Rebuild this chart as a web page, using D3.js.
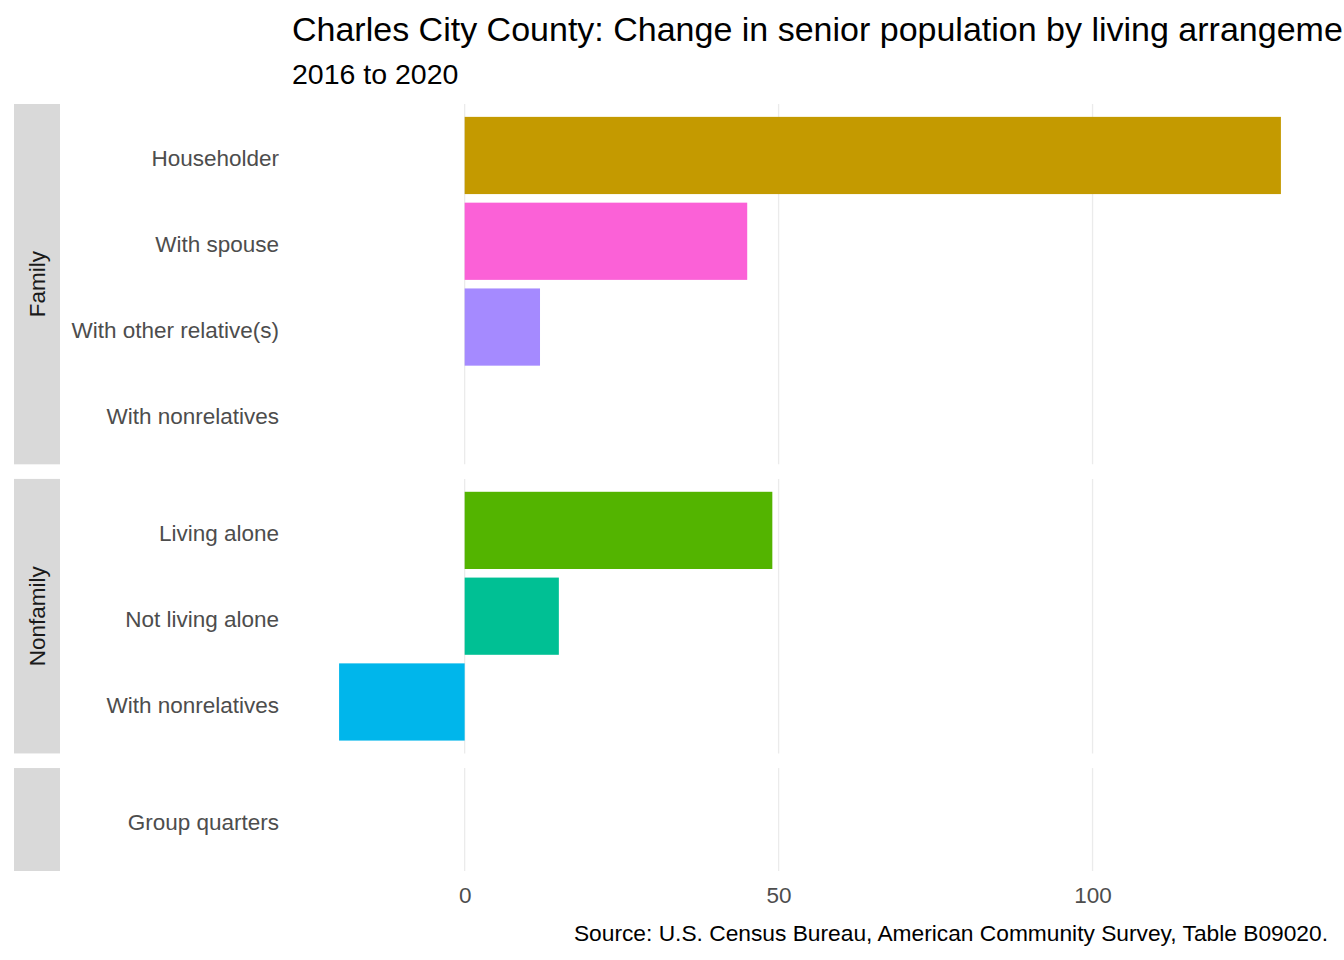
<!DOCTYPE html>
<html>
<head>
<meta charset="utf-8">
<script src="https://cdn.jsdelivr.net/npm/d3@7"></script>
<style>
  body { margin: 0; background: #fff; overflow: hidden; }
  text { font-family: "Liberation Sans", Arial, sans-serif; }
</style>
</head>
<body>
<div id="chart"></div>
<script>
// data
var groups = ["Family", "Nonfamily", "Group"];
var groupLabels = ["Family", "Nonfamily", ""];
var familyCats = ["Householder", "With spouse", "With other relative(s)", "With nonrelatives"];
var familyVals = [130, 45, 12, 0];
var nonfamilyCats = ["Living alone", "Not living alone", "With nonrelatives"];
var nonfamilyVals = [49, 15, -20];
var groupCats = ["Group quarters"];
var groupVals = [0];
var xTicks = [0, 50, 100];
// ggplot default hue palette, 7 levels
var palette = ["#F8766D", "#C49A00", "#53B400", "#00C094", "#00B6EB", "#A58AFF", "#FB61D7"];

var W = 1344, H = 960;
var margin = {top: 104, right: 16, bottom: 89, left: 292};
var stripX = 14, stripW = 46, gap = 14.6;

var panels = [
  {key: groups[0], label: groupLabels[0], cats: familyCats, vals: familyVals},
  {key: groups[1], label: groupLabels[1], cats: nonfamilyCats, vals: nonfamilyVals},
  {key: groups[2], label: groupLabels[2], cats: groupCats, vals: groupVals}
];

var svg = d3.select("#chart").append("svg")
    .attr("width", W).attr("height", H);

var allVals = familyVals.concat(nonfamilyVals, groupVals);
var lo = d3.min(allVals), hi = d3.max(allVals);
var pad = (hi - lo) * 0.05;
var x = d3.scaleLinear().domain([lo - pad, hi + pad]).range([margin.left, W - margin.right]);

var allCats = Array.from(new Set(familyCats.concat(nonfamilyCats, groupCats))).sort();
var color = d3.scaleOrdinal().domain(allCats).range(palette);

// free space facets: height proportional to (n - 1 + 1.2)
var units = d3.sum(panels, function(p){ return p.cats.length + 0.2; });
var plotH = H - margin.top - margin.bottom;
var unitH = (plotH - gap * (panels.length - 1)) / units;

var yPos = margin.top;
panels.forEach(function(p) {
  var h = (p.cats.length + 0.2) * unitH;
  var y = d3.scalePoint().domain(p.cats).range([yPos, yPos + h]).padding(0.6);
  var g = svg.append("g").attr("class", "panel");

  // strip
  g.append("rect").attr("x", stripX).attr("y", yPos).attr("width", stripW).attr("height", h)
    .attr("fill", "#D9D9D9");
  g.append("text").text(p.label)
    .attr("transform", "translate(" + (stripX + stripW / 2) + "," + (yPos + h / 2) + ") rotate(-90)")
    .attr("text-anchor", "middle").attr("dy", "0.35em")
    .attr("font-size", 22.5).attr("fill", "#1A1A1A");

  // grid
  g.selectAll(".grid").data(xTicks).enter().append("line")
    .attr("x1", function(d){ return x(d); }).attr("x2", function(d){ return x(d); })
    .attr("y1", yPos).attr("y2", yPos + h)
    .attr("stroke", "#EBEBEB").attr("stroke-width", 1.3);

  // bars
  var bw = y.step() * 0.9;
  g.selectAll(".bar").data(p.cats).enter().append("rect")
    .attr("x", function(d, i){ return x(Math.min(0, p.vals[i])); })
    .attr("width", function(d, i){ return Math.abs(x(p.vals[i]) - x(0)); })
    .attr("y", function(d){ return y(d) - bw / 2; })
    .attr("height", bw)
    .attr("fill", function(d){ return color(d); });

  // y axis
  var ax = g.append("g").attr("transform", "translate(" + margin.left + ",0)")
    .call(d3.axisLeft(y).tickSize(0).tickPadding(13));
  ax.select(".domain").remove();
  ax.selectAll("text").attr("font-size", 22.5).attr("fill", "#4D4D4D").attr("dy", "0.46em")
    .attr("font-family", "Liberation Sans, Arial, sans-serif");

  yPos += h + gap;
});

// x axis
var xa = svg.append("g").attr("transform", "translate(0," + (H - margin.bottom) + ")")
  .call(d3.axisBottom(x).tickValues(xTicks).tickSize(0).tickPadding(16));
xa.select(".domain").remove();
xa.selectAll("text").attr("font-size", 22.5).attr("fill", "#4D4D4D")
  .attr("font-family", "Liberation Sans, Arial, sans-serif");

// titles
svg.append("text").text("Charles City County: Change in senior population by living arrangement")
  .attr("x", margin.left).attr("y", 41).attr("font-size", 34).attr("fill", "#000");
svg.append("text").text("2016 to 2020")
  .attr("x", margin.left).attr("y", 84).attr("font-size", 28.5).attr("fill", "#000");
svg.append("text").text("Source: U.S. Census Bureau, American Community Survey, Table B09020.")
  .attr("x", W - margin.right).attr("y", 941).attr("text-anchor", "end")
  .attr("font-size", 22.75).attr("fill", "#000");
</script>
</body>
</html>
